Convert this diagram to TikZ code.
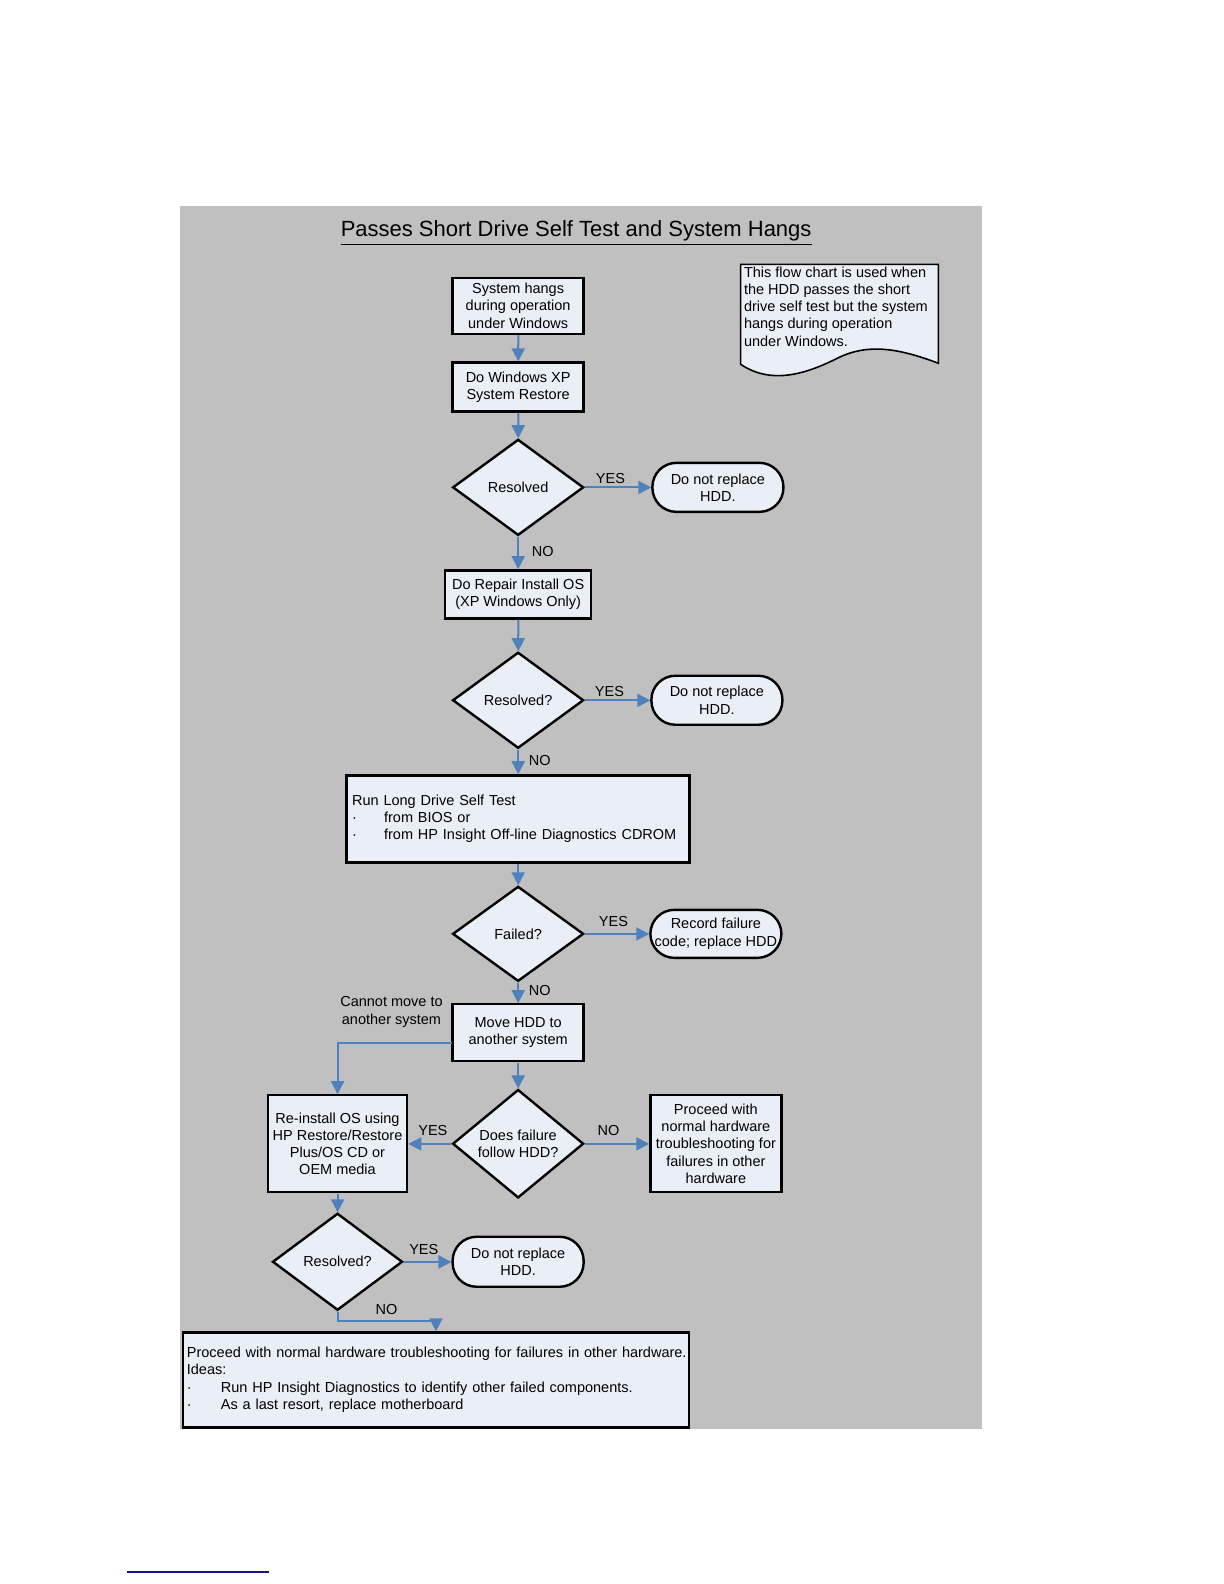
\documentclass[tikz,border=0pt]{standalone}
\usepackage{fontspec}
\setmainfont{Liberation Sans}
\usetikzlibrary{shapes.geometric,arrows.meta}
\definecolor{bggray}{RGB}{192,192,192}
\definecolor{nfill}{RGB}{234,239,247}
\definecolor{conblue}{RGB}{79,129,189}
\definecolor{footblue}{RGB}{20,20,140}
\newcommand{\fs}{\fontsize{7.25}{8.6}\selectfont}
\newcommand{\bul}[1]{\makebox[#1][l]{·}}
\tikzset{
  procbox/.style={draw, line width=1.2pt, fill=nfill, rectangle, inner sep=1pt, align=center, font=\fs},
  decbox/.style={draw, line width=1.2pt, fill=nfill, diamond, inner sep=0pt, align=center, font=\fs},
  termbox/.style={draw, line width=1.2pt, fill=nfill, rectangle, rounded corners=12pt, inner sep=1pt, align=center, font=\fs},
  conn/.style={draw=conblue, line width=1pt, -{Triangle[length=6.5pt,width=6.5pt]}, color=conblue},
  lbl/.style={font=\fs, inner sep=0pt}
}
\begin{document}
\begin{tikzpicture}[x=0.5pt,y=-0.5pt]
\useasboundingbox (0,0) rectangle (1224,1584);
\begin{scope}[scale=1.009]
\fill[bggray] (178,204) rectangle (973,1416);

\node[font=\fontsize{11}{13}\selectfont, inner sep=0pt] (title) at (571,231) {\underline{Passes Short Drive Self Test and System Hangs}};

% note (document shape)
\draw[line width=0.8pt, fill=nfill] (734,262) -- (930,262) -- (930,360)
  .. controls (890,345) and (860,340) .. (830,355)
  .. controls (800,370) and (765,382) .. (734,361) -- cycle;
\node[font=\fs, align=left, anchor=north west, inner sep=0pt] (note) at (737,264)
 {This flow chart is used when\\the HDD passes the short\\drive self test but the system\\hangs during operation\\under Windows.};

\node[procbox, minimum width=65.5pt, minimum height=28pt] (n1) at (513.5,303) {System hangs\\during operation\\under Windows};
\node[procbox, minimum width=65.5pt, minimum height=24.5pt] (n2) at (513.5,383.5) {Do Windows XP\\System Restore};
\node[decbox, minimum width=65.5pt, minimum height=48pt] (d1) at (513.5,483) {Resolved};
\node[termbox, minimum width=65.5pt, minimum height=24.5pt] (t1) at (711.5,483) {Do not replace\\HDD.};
\node[procbox, minimum width=73pt, minimum height=24pt] (n3) at (513.5,589) {Do Repair Install OS\\(XP Windows Only)};
\node[decbox, minimum width=65.5pt, minimum height=48pt] (d2) at (513.5,694) {Resolved?};
\node[termbox, minimum width=65.5pt, minimum height=24.5pt] (t2) at (710.5,694) {Do not replace\\HDD.};
\node[procbox, minimum width=171.5pt, minimum height=43.5pt, text width=166pt, inner xsep=2.75pt, align=left] (n4) at (513.5,811.5)
 {Run Long Drive Self Test\\\bul{16pt}from BIOS or\\\bul{16pt}from HP Insight Off-line Diagnostics CDROM};
\node[decbox, minimum width=65.5pt, minimum height=47.5pt] (d3) at (513.5,925.5) {Failed?};
\node[termbox, minimum width=65.5pt, minimum height=24pt] (t3) at (709.5,925.5) {Record failure\\code; replace HDD};
\node[procbox, minimum width=65.5pt, minimum height=28.5pt] (n5) at (513.5,1023.5) {Move HDD to\\another system};
\node[decbox, minimum width=65.5pt, minimum height=48.5pt] (d4) at (513.5,1133.5) {Does failure\\follow HDD?};
\node[procbox, minimum width=69.5pt, minimum height=48.5pt] (n6) at (334.5,1133.5) {Re-install OS using\\HP Restore/Restore\\Plus/OS CD or\\OEM media};
\node[procbox, minimum width=65.5pt, minimum height=48.5pt] (n7) at (709.5,1133.5) {Proceed with\\normal hardware\\troubleshooting for\\failures in other\\hardware};
\node[decbox, minimum width=65pt, minimum height=48.5pt] (d5) at (334.5,1250.5) {Resolved?};
\node[termbox, minimum width=65.5pt, minimum height=25pt] (t4) at (513.5,1250.5) {Do not replace\\HDD.};
\node[procbox, minimum width=253pt, minimum height=47.5pt, text width=249pt, inner xsep=2pt, align=left] (n8) at (432,1367.5)
 {\mbox{Proceed with normal hardware troubleshooting for failures in other hardware.}\\Ideas:\\\bul{17pt}Run HP Insight Diagnostics to identify other failed components.\\\bul{17pt}As a last resort, replace motherboard};

% labels
\node[lbl] (y1) at (605,474) {YES};
\node[lbl] (no1) at (538,547) {NO};
\node[lbl] (y2) at (604,685) {YES};
\node[lbl] (no2) at (535,754) {NO};
\node[lbl] (y3) at (608,913) {YES};
\node[lbl] (no3) at (535,982) {NO};
\node[lbl, align=center] (cm) at (388,1003) {Cannot move to\\another system};
\node[lbl] (y4) at (429,1120) {YES};
\node[lbl] (no4) at (603,1120) {NO};
\node[lbl] (y5) at (420,1238) {YES};
\node[lbl] (no5) at (383,1298) {NO};

% connectors
\draw[conn] (n1) -- (n2);
\draw[conn] (n2) -- (d1);
\draw[conn] (d1.east) -- (t1.west);
\draw[conn] (d1.south) -- (n3.north);
\draw[conn] (n3) -- (d2);
\draw[conn] (d2.east) -- (t2.west);
\draw[conn] (d2.south) -- (n4.north);
\draw[conn] (n4.south) -- (d3.north);
\draw[conn] (d3.east) -- (t3.west);
\draw[conn] (d3.south) -- (n5.north);
\coordinate (n5l) at (n5.west |- 0,1034);
\draw[conn] (n5l) -| (n6.north);
\draw[conn] (n5.south) -- (d4.north);
\draw[conn] (d4.west) -- (n6.east);
\draw[conn] (d4.east) -- (n7.west);
\draw[conn] (n6.south) -- (d5.north);
\draw[conn] (d5.east) -- (t4.west);
\coordinate (nb) at (432,1309);
\draw[conn] (d5.south) |- (nb) -- (n8.north);

% footnote rule
\draw[footblue, line width=0.7pt] (126,1558) -- (267,1558);
\end{scope}
\end{tikzpicture}
\end{document}
